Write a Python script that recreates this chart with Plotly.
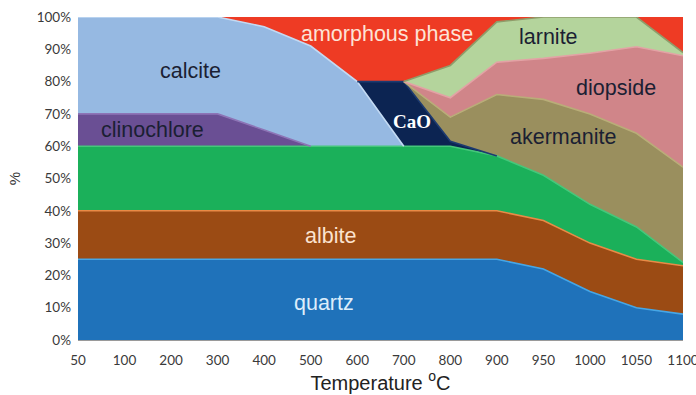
import plotly.graph_objects as go

# Firing temperature steps (°C), shown as evenly spaced categories
temperatures = ["50", "100", "200", "300", "400", "500", "600", "700",
                "800", "900", "950", "1000", "1050", "1100"]

# Phase fractions (%) at each temperature, listed bottom to top of the stack
quartz      = [25, 25, 25, 25, 25, 25, 25, 25, 25, 25, 22, 15, 10, 8]
albite      = [15, 15, 15, 15, 15, 15, 15, 15, 15, 15, 15, 15, 15, 15]
feldspar    = [20, 20, 20, 20, 20, 20, 20, 20, 20, 17, 14, 12, 10, 1]
clinochlore = [10, 10, 10, 10, 5, 0, 0, 0, 0, 0, 0, 0, 0, 0]
calcite     = [30, 30, 30, 30, 32, 31, 20, 0, 0, 0, 0, 0, 0, 0]
cao         = [0, 0, 0, 0, 0, 0, 0, 20, 1.5, 0, 0, 0, 0, 0]
akermanite  = [0, 0, 0, 0, 0, 0, 0, 0, 7.5, 19, 23.5, 28, 29, 29.5]
diopside    = [0, 0, 0, 0, 0, 0, 0, 0, 6, 10, 12.7, 18.8, 26.8, 34.5]
larnite     = [0, 0, 0, 0, 0, 0, 0, 0, 10, 12.5, 12.8, 11.2, 9.2, 1]
amorphous   = [0, 0, 0, 0, 3, 9, 20, 20, 15, 1.5, 0, 0, 0, 11]

# (name, values, fill colour, bevel highlight colour along the top edge)
layers = [
    ("quartz", quartz, "#1f72ba", "#45a6e6"),
    ("albite", albite, "#9b4b14", "#e98a46"),
    ("feldspar", feldspar, "#1bb05a", "#45c77a"),
    ("clinochlore", clinochlore, "#6a4f94", "#8d74b6"),
    ("calcite", calcite, "#96b9e2", "#c3daf3"),
    ("CaO", cao, "#0c2452", "#1d3a70"),
    ("akermanite", akermanite, "#9a8f5e", "#b9ad78"),
    ("diopside", diopside, "#d08589", "#e3a2a5"),
    ("larnite", larnite, "#b4d49c", "#8f9c6a"),
    ("amorphous phase", amorphous, "#ee3b24", None),
]

fig = go.Figure()
for name, values, color, _ in layers:
    fig.add_trace(go.Scatter(
        x=temperatures, y=values, name=name,
        mode="lines", stackgroup="phases", groupnorm="percent",
        line=dict(width=0, color=color), fillcolor=color,
        hoverinfo="x+y+name",
    ))

# Bevel-style highlight along the upper boundary of each layer where it exists
totals = [sum(col) for col in zip(*[v for _, v, _, _ in layers])]
running = [0.0] * len(temperatures)
for name, values, color, edge in layers:
    running = [r + 100.0 * v / t for r, v, t in zip(running, values, totals)]
    if edge is None:
        continue
    n = len(values)
    present = [values[i] > 0 or (i > 0 and values[i - 1] > 0) or
               (i < n - 1 and values[i + 1] > 0) for i in range(n)]
    edge_y = [running[i] if present[i] else None for i in range(n)]
    fig.add_trace(go.Scatter(
        x=temperatures, y=edge_y, mode="lines", hoverinfo="skip",
        line=dict(color=edge, width=1.6), showlegend=False,
    ))

label_font = "Liberation Sans, Arial, sans-serif"
labels = [
    ("calcite", 2.41, 83.3, "#1b1f33", 21.5, label_font),
    ("clinochlore", 1.61, 65.0, "#1b1f33", 21.5, label_font),
    ("amorphous phase", 6.65, 94.7, "#fde3d6", 21.5, label_font),
    ("<b>CaO</b>", 7.18, 67.5, "#ffffff", 19, "Liberation Serif, Times New Roman, serif"),
    ("larnite", 10.1, 93.8, "#1b1f33", 21.5, label_font),
    ("diopside", 11.57, 78.0, "#1b1f33", 21.5, label_font),
    ("akermanite", 10.43, 62.8, "#1b1f33", 21.5, label_font),
    ("albite", 5.42, 32.2, "#fbe3cf", 21.5, label_font),
    ("quartz", 5.29, 11.5, "#dcedfb", 21.5, label_font),
]
for text, xi, yv, color, size, family in labels:
    fig.add_annotation(x=xi, y=yv, xref="x", yref="y", text=text,
                       showarrow=False,
                       font=dict(family=family, size=size, color=color))

tick_font = dict(family="Lato, Open Sans, sans-serif", size=13.5, color="#3a3a3a")

fig.update_layout(
    width=696, height=395,
    margin=dict(l=78, r=13, t=17, b=55),
    paper_bgcolor="white", plot_bgcolor="white",
    showlegend=False,
    xaxis=dict(
        type="category", range=[0, 13], showgrid=False, zeroline=False,
        showline=True, linecolor="#9a9a9a", linewidth=1, automargin=False,
        ticks="", tickfont=tick_font, ticklabelstandoff=8,
        title=dict(text="Temperature <sup>o</sup>C",
                   font=dict(family=label_font, size=20, color="#222222"),
                   standoff=8),
    ),
    yaxis=dict(
        range=[0, 100], dtick=10, ticksuffix="%", showgrid=False,
        zeroline=False, showline=False, ticks="", automargin=False,
        tickfont=tick_font, ticklabelstandoff=6,
        title=dict(text="%", font=dict(family=label_font, size=15, color="#333333"),
                   standoff=12),
    ),
)

fig.write_html("out.html")
